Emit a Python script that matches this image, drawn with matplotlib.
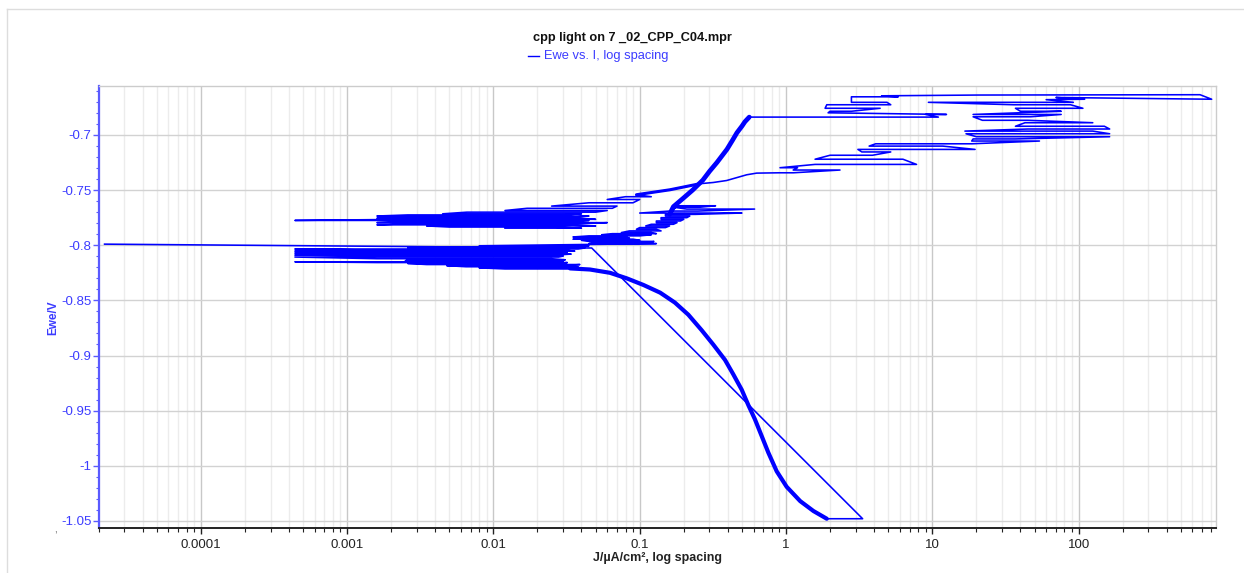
import numpy as np
import matplotlib
matplotlib.use("Agg")
import matplotlib.pyplot as plt
from matplotlib.ticker import FixedLocator, FuncFormatter, MultipleLocator, LogLocator, NullFormatter
from matplotlib.lines import Line2D

plt.rcParams['font.family'] = ['Liberation Sans', 'DejaVu Sans']

W, H = 1244, 573

# ---- data: J (uA/cm2) and Ewe (V) ----
# first point + connecting line + bottom of the cathodic scan
start_j = [2.2e-5, 0.047, 3.34, 1.90]
start_e = [-0.799, -0.8025, -1.048, -1.048]

# cathodic branch (going up in potential)
cath_j = [1.90, 1.54, 1.25, 1.01, 0.864, 0.757, 0.682, 0.614, 0.553, 0.498, 0.436,
          0.383, 0.318, 0.265, 0.215, 0.174, 0.138, 0.106, 0.0815, 0.0627, 0.0457, 0.0334]
cath_e = [-1.048, -1.041, -1.032, -1.019, -1.005, -0.988, -0.973, -0.958, -0.945, -0.931, -0.917,
          -0.904, -0.890, -0.877, -0.863, -0.852, -0.843, -0.836, -0.830, -0.825, -0.822, -0.821]

# noisy band below Ecorr: potential, left end, right end of each sweep line
low_e = [-0.8215, -0.8205, -0.8195, -0.8185, -0.8175, -0.8165, -0.8157, -0.8150, -0.8141, -0.8132,
         -0.8122, -0.8107, -0.8098, -0.8089, -0.8080, -0.8071, -0.8062, -0.8053, -0.8044, -0.8034,
         -0.8025, -0.8015, -0.8005]
low_jl = [0.012, 0.008, 0.0065, 0.0048, 0.0035, 0.0026, 0.0016, 0.00044, 0.0025, 0.0026,
          0.0016, 0.00044, 0.0025, 0.00044, 0.0016, 0.00044, 0.0025, 0.00044, 0.0016, 0.00044,
          0.0026, 0.0035, 0.008]
low_jr = [0.040, 0.036, 0.038, 0.030, 0.039, 0.028, 0.032, 0.030, 0.026, 0.031,
          0.025, 0.028, 0.030, 0.027, 0.034, 0.029, 0.032, 0.036, 0.030, 0.038,
          0.042, 0.040, 0.045]

# crossing region where the anodic branch starts
mid_e = [-0.7985, -0.7975, -0.7965, -0.7955, -0.7945, -0.7935, -0.7925, -0.7915, -0.7905, -0.7895,
         -0.7885, -0.7870, -0.7855, -0.7840, -0.7825, -0.7810, -0.7795, -0.7780, -0.7765, -0.7750,
         -0.7735, -0.7720, -0.7708, -0.7690, -0.7672, -0.7655, -0.7642]
mid_jl = [0.045, 0.05, 0.045, 0.04, 0.035, 0.04, 0.035, 0.045, 0.055, 0.065,
          0.075, 0.085, 0.095, 0.10, 0.11, 0.12, 0.13, 0.13, 0.14, 0.14,
          0.15, 0.15, 0.10, 0.16, 0.21, 0.17, 0.18]
mid_jr = [0.13, 0.12, 0.125, 0.10, 0.09, 0.085, 0.08, 0.10, 0.12, 0.13,
          0.12, 0.14, 0.13, 0.15, 0.16, 0.17, 0.18, 0.19, 0.20, 0.21,
          0.22, 0.24, 0.50, 0.25, 0.61, 0.26, 0.33]

# anodic branch up to the breakdown
anod_j = [0.16, 0.17, 0.20, 0.23, 0.27, 0.30, 0.337, 0.395, 0.43, 0.462, 0.50, 0.524, 0.561]
anod_e = [-0.772, -0.765, -0.757, -0.750, -0.741, -0.733, -0.725, -0.713, -0.705, -0.698,
          -0.692, -0.688, -0.6838]

# forward scan after breakdown, up to the vertex
fwd_j = [0.561, 11.0, 9.0, 12.5, 1.94, 2.0, 2.8, 4.4, 1.85, 1.9,
         5.2, 4.9, 2.8, 2.8, 5.85, 4.5, 20.6, 676, 812]
fwd_e = [-0.6838, -0.6838, -0.6814, -0.6814, -0.6799, -0.6785, -0.6785, -0.6758, -0.6758, -0.6726,
         -0.6726, -0.6704, -0.6704, -0.6654, -0.6654, -0.6645, -0.6638, -0.6635, -0.6676]

# reverse scan
rev_j = [812, 70, 110, 60, 92, 9.4, 36, 88, 107, 37,
         40, 76, 19, 76, 47, 19, 22, 45, 125, 43,
         37, 150, 163, 45, 16.7, 125, 163, 17, 20, 163,
         37, 19, 18.6, 54, 18.6, 4.1, 3.7, 11.8, 19.6, 3.1,
         3.3, 5.2, 3.9, 2.0, 1.58, 6.3, 7.8, 1.58, 0.91, 1.2,
         1.12, 2.34, 1.12, 0.9, 0.63, 0.539, 0.393, 0.318, 0.258]
rev_e = [-0.6676, -0.6660, -0.6676, -0.6680, -0.6704, -0.6704, -0.6726, -0.6726, -0.6758, -0.6758,
         -0.6785, -0.6785, -0.6814, -0.6814, -0.6835, -0.6835, -0.6867, -0.6867, -0.6889, -0.6889,
         -0.6921, -0.6921, -0.6946, -0.6946, -0.6965, -0.6965, -0.6989, -0.6989, -0.7016, -0.7016,
         -0.7036, -0.7036, -0.7055, -0.7055, -0.7080, -0.7080, -0.7101, -0.7101, -0.7131, -0.7131,
         -0.7154, -0.7154, -0.7184, -0.7184, -0.7220, -0.7220, -0.7267, -0.7267, -0.7297, -0.7297,
         -0.7318, -0.7318, -0.7343, -0.7343, -0.7346, -0.7361, -0.7413, -0.7431, -0.7442]

# reverse scan: strand joining the upper noisy band
back_j = [0.258, 0.161, 0.095]
back_e = [-0.7442, -0.7497, -0.7542]

# upper noisy band (reverse scan near Ecorr)
up_e = [-0.7560, -0.7585, -0.7615, -0.7645, -0.7665, -0.7685, -0.7700, -0.7715, -0.7725, -0.7735,
        -0.7745, -0.7755, -0.7765, -0.7775, -0.7785, -0.7795, -0.7805, -0.7815, -0.7825, -0.7835,
        -0.7845]
up_jl = [0.08, 0.06, 0.045, 0.025, 0.017, 0.012, 0.0066, 0.0045, 0.0026, 0.0016,
         0.0025, 0.0016, 0.0025, 0.00044, 0.0025, 0.0016, 0.0025, 0.0016, 0.0035, 0.005,
         0.012]
up_jr = [0.12, 0.10, 0.09, 0.07, 0.065, 0.06, 0.05, 0.04, 0.03, 0.045,
         0.035, 0.04, 0.05, 0.045, 0.035, 0.06, 0.04, 0.03, 0.05, 0.025,
         0.04]

xticks = [1e-4, 1e-3, 1e-2, 1e-1, 1, 10, 100]
yticks = [-0.7, -0.75, -0.8, -0.85, -0.9, -0.95, -1.0, -1.05]


def sweeps(levels, left, right):
    js, es = [], []
    for k, (e, a, b) in enumerate(zip(levels, left, right)):
        pair = (b, a) if k % 2 == 0 else (a, b)
        js += list(pair)
        es += [e, e]
    return js, es


low_j, low_e2 = sweeps(low_e, low_jl, low_jr)
mid_j, mid_e2 = sweeps(mid_e, mid_jl, mid_jr)
up_j, up_e2 = sweeps(up_e, up_jl, up_jr)

all_j = start_j + cath_j + low_j + mid_j + anod_j + fwd_j + rev_j + back_j + up_j
all_e = start_e + cath_e + low_e2 + mid_e2 + anod_e + fwd_e + rev_e + back_e + up_e2

fig = plt.figure(figsize=(W / 100, H / 100), dpi=100)
ax = fig.add_axes([98.5 / W, 1 - 528 / H, (1216 - 98.5) / W, (528 - 86) / H])

blue = '#0000ff'
thick = dict(color=blue, zorder=3, solid_joinstyle='round', solid_capstyle='round')
ax.plot(all_j, all_e, color=blue, lw=1.15, zorder=3)
ax.plot(cath_j, cath_e, lw=3.0, **thick)
ax.plot(anod_j, anod_e, lw=3.4, **thick)
ax.plot(back_j, back_e, lw=2.2, **thick)

ax.set_xscale('log')
ax.set_xlim(2.0e-5, 869)
ax.set_ylim(-1.0564, -0.6556)

ax.xaxis.set_major_locator(FixedLocator(xticks))
ax.xaxis.set_minor_locator(LogLocator(base=10, subs=np.arange(2, 10), numticks=20))
ax.xaxis.set_major_formatter(FuncFormatter(lambda v, p: '%g' % v))
ax.xaxis.set_minor_formatter(NullFormatter())
ax.yaxis.set_major_locator(FixedLocator(yticks))
ax.yaxis.set_minor_locator(MultipleLocator(0.01))
ax.yaxis.set_major_formatter(FuncFormatter(lambda v, p: '%g' % round(v, 3)))

ax.grid(True, which='major', axis='x', color='#c8c8c8', lw=1.0, zorder=0)
ax.grid(True, which='minor', axis='x', color='#ececec', lw=1.0, zorder=0)
ax.grid(True, which='major', axis='y', color='#d2d2d2', lw=1.0, zorder=0)
ax.set_axisbelow(True)

for s in ('top', 'right'):
    ax.spines[s].set_color('#cccccc')
    ax.spines[s].set_linewidth(1.0)
ax.spines['bottom'].set_color('#222222')
ax.spines['bottom'].set_linewidth(1.4)
ax.spines['left'].set_color('#5a5aff')
ax.spines['left'].set_linewidth(1.6)

ax.tick_params(axis='x', which='major', direction='out', length=4, width=1, colors='#222222',
               labelsize=9.5, labelcolor='#222222', pad=4)
ax.tick_params(axis='x', which='minor', direction='out', length=3, width=0.8, colors='#222222')
ax.tick_params(axis='y', which='major', direction='out', length=4, width=1, colors='#5a5aff',
               labelsize=9.5, labelcolor='#3c3cff', pad=1)
ax.tick_params(axis='y', which='minor', direction='out', length=2, width=0.8, colors='#5a5aff')

ax.set_xlabel('J/µA/cm², log spacing', fontsize=9, fontweight='bold', color='#222222', labelpad=1)
fig.text(53 / W, 1 - 318 / H, 'Ewe/V', rotation=90, fontsize=8.5, fontweight='bold',
         color='#3c3cff', ha='center', va='center')

fig.text(632 / W, 1 - 38 / H, 'cpp light on 7 _02_CPP_C04.mpr', fontsize=9.2, fontweight='bold',
         color='#111111', ha='center', va='center')
fig.add_artist(Line2D([528 / W, 539 / W], [1 - 56 / H, 1 - 56 / H], color=blue, lw=1.0))
fig.text(544 / W, 1 - 56 / H, 'Ewe vs. I, log spacing', fontsize=9.3, color='#3c3cff',
         ha='left', va='center')
fig.text(55 / W, 1 - 530 / H, ',', fontsize=7, color='#555555', ha='center', va='center')

# light outer frame
fig.add_artist(Line2D([7 / W, 1.0], [1 - 9 / H, 1 - 9 / H], color='#dddddd', lw=1.0))
fig.add_artist(Line2D([7 / W, 7 / W], [0.0, 1 - 9 / H], color='#dddddd', lw=1.0))

fig.savefig('out.png', dpi=100)
